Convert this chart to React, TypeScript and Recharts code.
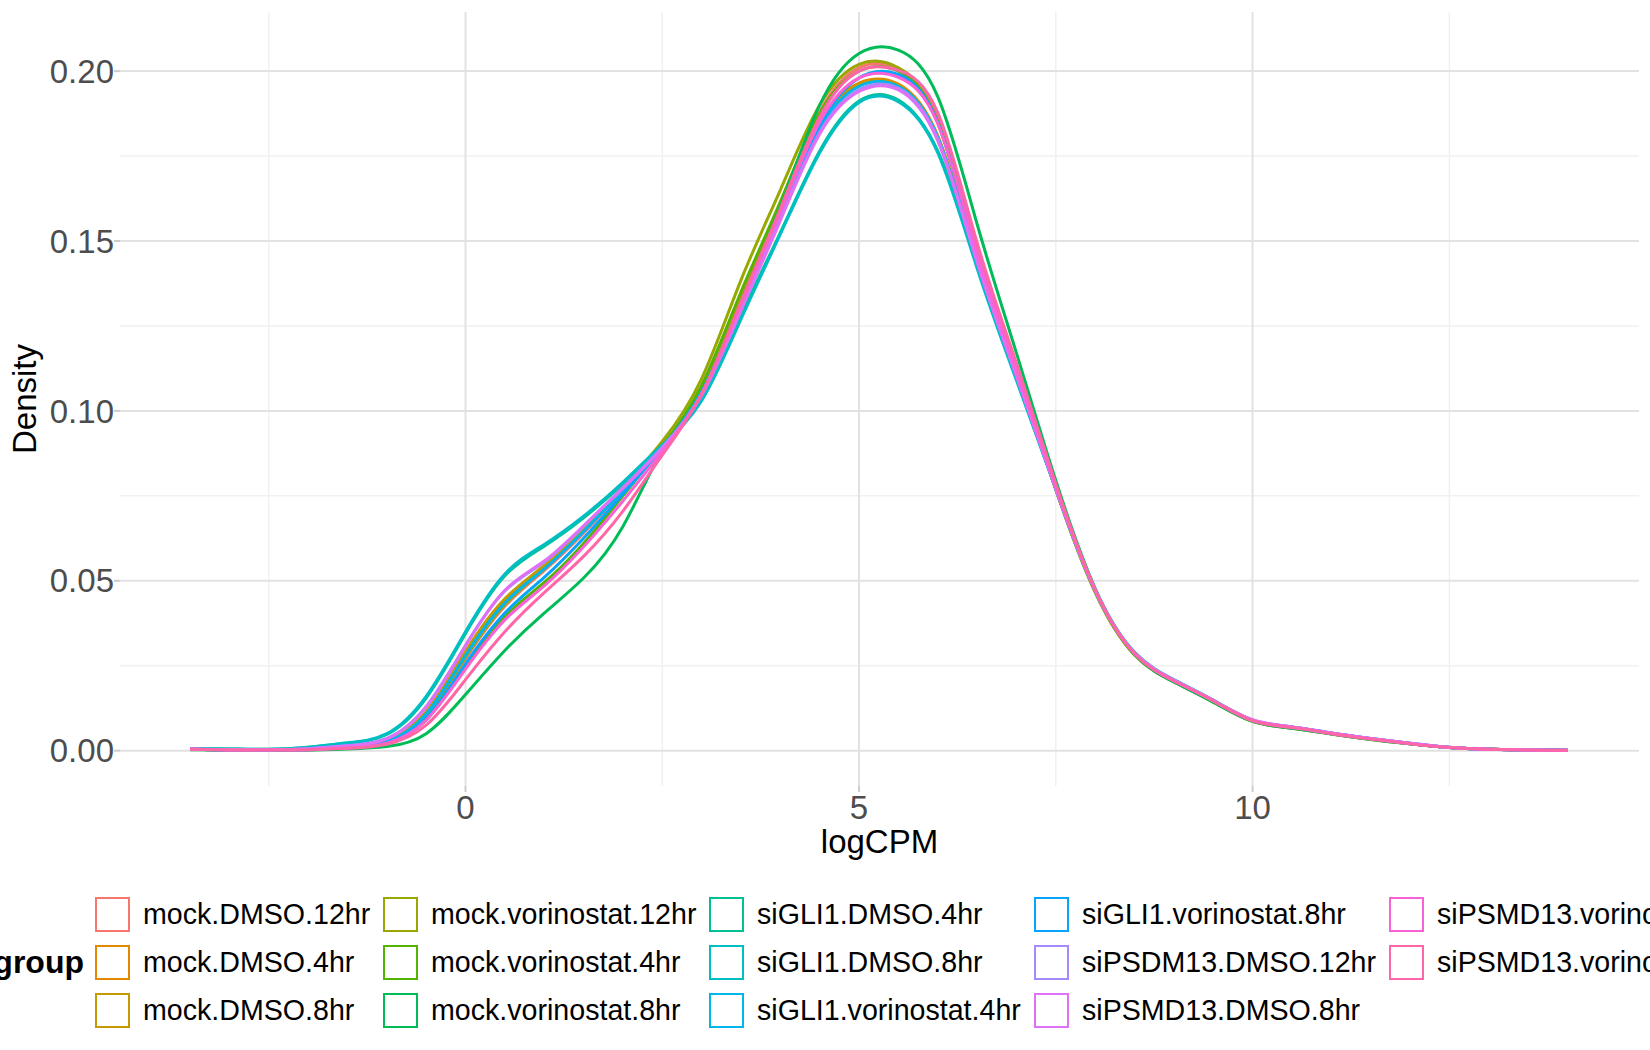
import { CartesianGrid, Line, LineChart, XAxis, YAxis } from "recharts"

// logCPM grid the densities were read at (step 0.5)
const logCPM = [
  -3.5, -3, -2.5, -2, -1.5, -1, -0.5, 0, 0.5, 1, 1.5, 2, 2.5, 3, 3.5, 4, 4.5, 5, 5.5, 6, 6.5, 7, 7.5, 8, 8.5, 9, 9.5,
  10, 10.5, 11, 11.5, 12, 12.5, 13, 13.5, 14,
]

const mockDMSO12hr = [
  0.0004, 0.0002, 0.0002, 0.0003, 0.0009, 0.0025, 0.01, 0.027, 0.0425, 0.053, 0.064, 0.0765, 0.0895, 0.1065, 0.133,
  0.161, 0.188, 0.201, 0.2008, 0.1865, 0.148, 0.113, 0.078, 0.0472, 0.0283, 0.0203, 0.0144, 0.0087, 0.0067, 0.005,
  0.0034, 0.0021, 0.0009, 0.0004, 0.0002, 0.0001,
]
const mockDMSO4hr = [
  0.0004, 0.0002, 0.0002, 0.0004, 0.0011, 0.0029, 0.0113, 0.029, 0.0445, 0.0543, 0.0652, 0.0772, 0.0898, 0.1065,
  0.133, 0.1595, 0.185, 0.1965, 0.1962, 0.181, 0.1445, 0.1108, 0.077, 0.047, 0.0285, 0.0205, 0.0145, 0.0088, 0.0068,
  0.005, 0.0034, 0.002, 0.0009, 0.0004, 0.0002, 0.0001,
]
const mockDMSO8hr = [
  0.0004, 0.0002, 0.0002, 0.0004, 0.0011, 0.003, 0.0115, 0.0292, 0.0447, 0.0545, 0.0654, 0.0772, 0.0897, 0.1062,
  0.1325, 0.159, 0.1845, 0.196, 0.1958, 0.1805, 0.1445, 0.1107, 0.0769, 0.047, 0.0286, 0.0206, 0.0146, 0.0089, 0.0068,
  0.0051, 0.0034, 0.002, 0.0009, 0.0004, 0.0002, 0.0001,
]
const mockVorinostat12hr = [
  0.0004, 0.0002, 0.0002, 0.0004, 0.001, 0.0026, 0.0105, 0.0275, 0.043, 0.0535, 0.0648, 0.0775, 0.091, 0.1095, 0.1385,
  0.165, 0.19, 0.202, 0.201, 0.185, 0.146, 0.1112, 0.0768, 0.0466, 0.0282, 0.0203, 0.0143, 0.0086, 0.0066, 0.0049,
  0.0033, 0.002, 0.0009, 0.0004, 0.0002, 0.0001,
]
const mockVorinostat4hr = [
  0.0004, 0.0002, 0.0002, 0.0003, 0.0008, 0.0022, 0.009, 0.0245, 0.0395, 0.0495, 0.061, 0.075, 0.0895, 0.1075, 0.135,
  0.1615, 0.1875, 0.2, 0.2, 0.185, 0.1465, 0.1118, 0.0772, 0.0468, 0.0283, 0.0203, 0.0144, 0.0087, 0.0067, 0.005,
  0.0034, 0.002, 0.0009, 0.0004, 0.0002, 0.0001,
]
const mockVorinostat8hr = [
  0.0003, 0.0002, 0.0002, 0.0002, 0.0005, 0.0012, 0.005, 0.0165, 0.0295, 0.0405, 0.0508, 0.066, 0.0882, 0.1055, 0.132,
  0.16, 0.19, 0.2052, 0.2062, 0.1925, 0.155, 0.117, 0.0795, 0.0478, 0.0284, 0.0202, 0.0143, 0.0086, 0.0066, 0.0049,
  0.0033, 0.002, 0.0009, 0.0004, 0.0002, 0.0001,
]
const siGLI1DMSO4hr = [
  0.0006, 0.0005, 0.0004, 0.001, 0.0022, 0.0048, 0.0155, 0.0345, 0.0515, 0.0602, 0.0685, 0.0785, 0.0895, 0.1035,
  0.128, 0.1525, 0.1765, 0.1912, 0.1915, 0.1765, 0.1435, 0.1095, 0.077, 0.0474, 0.0289, 0.0208, 0.0148, 0.009, 0.0069,
  0.0051, 0.0035, 0.0021, 0.0009, 0.0004, 0.0002, 0.0001,
]
const siGLI1DMSO8hr = [
  0.0006, 0.0005, 0.0004, 0.001, 0.0023, 0.005, 0.016, 0.035, 0.052, 0.0607, 0.069, 0.079, 0.09, 0.103, 0.127, 0.152,
  0.176, 0.1908, 0.191, 0.176, 0.142, 0.109, 0.077, 0.0475, 0.029, 0.0209, 0.0149, 0.009, 0.0069, 0.0051, 0.0035,
  0.0021, 0.0009, 0.0004, 0.0002, 0.0001,
]
const siGLI1Vorinostat4hr = [
  0.0004, 0.0002, 0.0002, 0.0004, 0.001, 0.0027, 0.0108, 0.028, 0.0435, 0.0535, 0.0645, 0.0765, 0.089, 0.1055, 0.131,
  0.157, 0.183, 0.1955, 0.1955, 0.1805, 0.144, 0.1105, 0.077, 0.0471, 0.0287, 0.0207, 0.0147, 0.0089, 0.0069, 0.0051,
  0.0035, 0.0021, 0.0009, 0.0004, 0.0002, 0.0001,
]
const siGLI1Vorinostat8hr = [
  0.0004, 0.0002, 0.0002, 0.0003, 0.0009, 0.0024, 0.0095, 0.0255, 0.0405, 0.051, 0.0625, 0.0755, 0.089, 0.1055, 0.131,
  0.1575, 0.184, 0.198, 0.199, 0.1848, 0.146, 0.1115, 0.0775, 0.0472, 0.0287, 0.0207, 0.0148, 0.009, 0.007, 0.0052,
  0.0036, 0.0022, 0.001, 0.0004, 0.0002, 0.0001,
]
const siPSDM13DMSO12hr = [
  0.0005, 0.0003, 0.0003, 0.0006, 0.0015, 0.0036, 0.013, 0.031, 0.047, 0.0555, 0.066, 0.0775, 0.0893, 0.105, 0.13,
  0.1565, 0.182, 0.1945, 0.195, 0.18, 0.144, 0.1105, 0.0772, 0.0473, 0.0288, 0.0208, 0.0148, 0.009, 0.007, 0.0052,
  0.0036, 0.0022, 0.001, 0.0004, 0.0002, 0.0001,
]
const siPSMD13DMSO8hr = [
  0.0005, 0.0003, 0.0003, 0.0006, 0.0014, 0.0035, 0.0128, 0.0308, 0.0472, 0.0558, 0.0662, 0.0772, 0.089, 0.1045,
  0.1295, 0.156, 0.1815, 0.194, 0.1945, 0.1795, 0.1438, 0.1103, 0.0771, 0.0472, 0.0288, 0.0208, 0.0148, 0.0091, 0.007,
  0.0052, 0.0036, 0.0022, 0.001, 0.0004, 0.0002, 0.0001,
]
const siPSMD13Vorinostat12hr = [
  0.0004, 0.0002, 0.0002, 0.0003, 0.0008, 0.0022, 0.009, 0.024, 0.0385, 0.0485, 0.06, 0.0735, 0.088, 0.105, 0.1315,
  0.1585, 0.185, 0.198, 0.1982, 0.1845, 0.1465, 0.112, 0.0777, 0.0472, 0.0286, 0.0206, 0.0147, 0.0089, 0.0069, 0.0051,
  0.0035, 0.0021, 0.0009, 0.0004, 0.0002, 0.0001,
]
const siPSMD13Vorinostat8hr = [
  0.0004, 0.0002, 0.0002, 0.0003, 0.0007, 0.0019, 0.0075, 0.0209, 0.035, 0.0465, 0.0572, 0.0705, 0.087, 0.105, 0.132,
  0.1595, 0.1865, 0.2, 0.2002, 0.1878, 0.1495, 0.114, 0.0785, 0.0475, 0.0286, 0.0205, 0.0146, 0.0088, 0.0068, 0.005,
  0.0034, 0.002, 0.0009, 0.0004, 0.0002, 0.0001,
]

const groupNames = [
  "mock.DMSO.12hr",
  "mock.DMSO.4hr",
  "mock.DMSO.8hr",
  "mock.vorinostat.12hr",
  "mock.vorinostat.4hr",
  "mock.vorinostat.8hr",
  "siGLI1.DMSO.4hr",
  "siGLI1.DMSO.8hr",
  "siGLI1.vorinostat.4hr",
  "siGLI1.vorinostat.8hr",
  "siPSDM13.DMSO.12hr",
  "siPSMD13.DMSO.8hr",
  "siPSMD13.vorinostat.12hr",
  "siPSMD13.vorinostat.8hr",
]
const groupColors = [
  "#F8766D", "#E38900", "#C49A00", "#99A800", "#53B400", "#00BC56", "#00C094",
  "#00BFC4", "#00B6EB", "#06A4FF", "#A58AFF", "#DF70F8", "#FB61D7", "#FF66A8",
]
const groupValues = [
  mockDMSO12hr, mockDMSO4hr, mockDMSO8hr, mockVorinostat12hr, mockVorinostat4hr, mockVorinostat8hr, siGLI1DMSO4hr,
  siGLI1DMSO8hr, siGLI1Vorinostat4hr, siGLI1Vorinostat8hr, siPSDM13DMSO12hr, siPSMD13DMSO8hr, siPSMD13Vorinostat12hr,
  siPSMD13Vorinostat8hr,
]

const xTicks = [0, 5, 10]
const xMinor = [-2.5, 2.5, 7.5, 12.5]
const yTicks = [0, 0.05, 0.1, 0.15, 0.2]
const yMinor = [0.025, 0.075, 0.125, 0.175]

const rows = logCPM.map((x, i) => {
  const row: Record<string, number> = { x }
  groupValues.forEach((vals, g) => {
    row["g" + g] = vals[i]
  })
  return row
})

const font = "'Liberation Sans', Arial, sans-serif"
const legendCols = [95, 383, 709, 1034, 1389]
const legendRows = [897, 945, 993]

function GroupLegend() {
  return (
    <>
      <div
        style={{
          position: "absolute",
          right: 1650 - 84,
          top: 945,
          height: 35,
          lineHeight: "35px",
          fontFamily: font,
          fontWeight: "bold",
          fontSize: 32,
          color: "#000",
          whiteSpace: "nowrap",
        }}
      >
        group
      </div>
      {groupNames.map((name, i) => (
        <div
          key={name}
          style={{
            position: "absolute",
            left: legendCols[Math.floor(i / 3)],
            top: legendRows[i % 3],
            height: 35,
            display: "flex",
            alignItems: "center",
            whiteSpace: "nowrap",
          }}
        >
          <div
            style={{
              width: 31,
              height: 31,
              border: `2px solid ${groupColors[i]}`,
              background: "#fff",
              flex: "none",
            }}
          />
          <span style={{ marginLeft: 13, fontFamily: font, fontSize: 28.6, color: "#000" }}>{name}</span>
        </div>
      ))}
    </>
  )
}

export default function App() {
  return (
    <div
      style={{
        position: "absolute",
        left: 0,
        top: 0,
        width: 1650,
        height: 1050,
        overflow: "hidden",
        background: "#fff",
      }}
    >
      <LineChart width={1650} height={1050} data={rows} margin={{ top: 12, right: 11, left: 0, bottom: 220 }}>
        <CartesianGrid stroke="#F1F1F1" strokeWidth={1.5} horizontalValues={yMinor} verticalValues={xMinor} />
        <CartesianGrid stroke="#E2E2E2" strokeWidth={2} horizontalValues={yTicks} verticalValues={xTicks} />
        <XAxis
          dataKey="x"
          type="number"
          domain={[-4.39, 14.91]}
          ticks={xTicks}
          allowDataOverflow
          height={44}
          axisLine={false}
          tickLine={{ stroke: "#CCCCCC", strokeWidth: 2 }}
          tickSize={6}
          tickMargin={4}
          tick={{ fill: "#4D4D4D", fontSize: 33, fontFamily: font }}
          label={{ value: "logCPM", position: "bottom", offset: 0, fill: "#000", fontSize: 33, fontFamily: font }}
        />
        <YAxis
          type="number"
          domain={[-0.0104, 0.2174]}
          ticks={yTicks}
          allowDataOverflow
          width={120}
          axisLine={false}
          tickLine={{ stroke: "#CCCCCC", strokeWidth: 2 }}
          tickSize={6}
          tickMargin={0}
          tickFormatter={(v: number) => v.toFixed(2)}
          tick={{ fill: "#4D4D4D", fontSize: 33, fontFamily: font }}
          label={{
            value: "Density",
            angle: -90,
            position: "insideLeft",
            offset: 24,
            fill: "#000",
            fontSize: 33,
            fontFamily: font,
            style: { textAnchor: "middle" },
          }}
        />
        {groupNames.map((name, g) => (
          <Line
            key={name}
            name={name}
            dataKey={"g" + g}
            type="natural"
            stroke={groupColors[g]}
            strokeWidth={3}
            dot={false}
            activeDot={false}
            isAnimationActive={false}
          />
        ))}
      </LineChart>
      <GroupLegend />
    </div>
  )
}
